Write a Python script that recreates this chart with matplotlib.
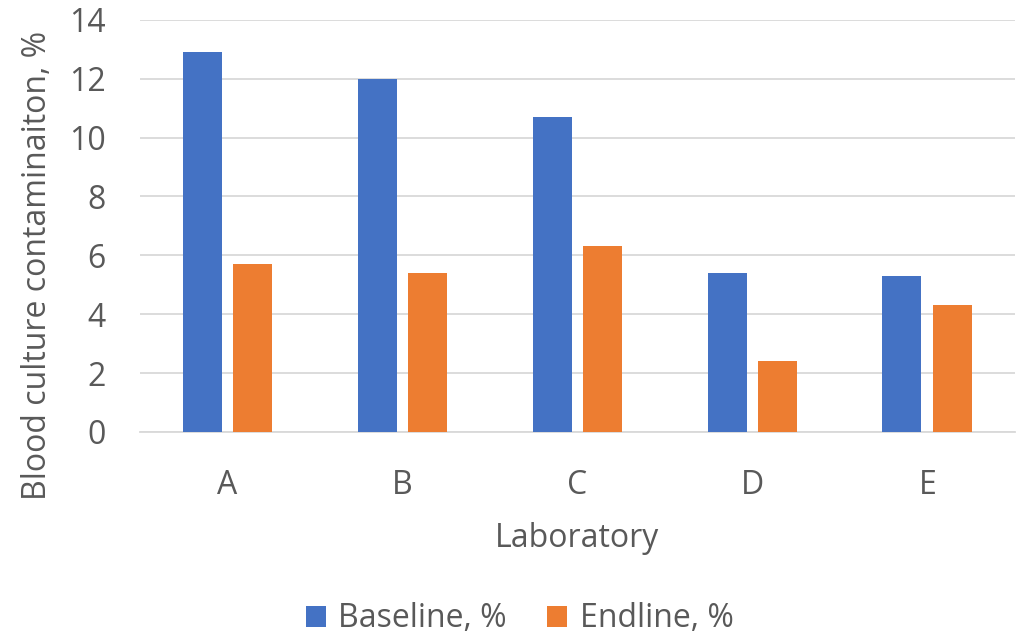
import matplotlib
matplotlib.use("Agg")
import matplotlib.pyplot as plt
import numpy as np

categories = ["A", "B", "C", "D", "E"]
baseline = [12.9, 12.0, 10.7, 5.4, 5.3]
endline = [5.7, 5.4, 6.3, 2.4, 4.3]
series_names = ["Baseline, %", "Endline, %"]
yticks = [0, 2, 4, 6, 8, 10, 12, 14]

plt.rcParams['font.family'] = ['Open Sans', 'DejaVu Sans']
txt = "#595959"
fs = 23

fig = plt.figure(figsize=(10.23, 6.38), dpi=100)
ax = fig.add_axes([0.137, 0.323, 0.855, 0.646])

x = np.arange(len(categories))
w = 0.223
off = 0.145
ax.bar(x - off, baseline, w, color="#4472C4", label=series_names[0], zorder=3)
ax.bar(x + off, endline, w, color="#ED7D31", label=series_names[1], zorder=3)

ax.set_xlim(-0.5, len(categories) - 0.5)
ax.set_ylim(0, 14)
ax.set_yticks(yticks)
ax.set_xticks(x)
ax.set_xticklabels(categories)
ax.yaxis.grid(True, color="#D9D9D9", linewidth=1.3, zorder=0)
for s in ["top", "right", "left"]:
    ax.spines[s].set_visible(False)
ax.spines["bottom"].set_color("#D9D9D9")
ax.spines["bottom"].set_linewidth(1.3)
ax.tick_params(axis="both", length=0, labelsize=fs, labelcolor=txt)
ax.tick_params(axis="y", pad=25)
ax.tick_params(axis="x", pad=27)
ax.set_xlabel("Laboratory", fontsize=fs, color=txt, labelpad=14)
ax.set_ylabel("Blood culture contaminaiton, %", fontsize=fs, color=txt,
              va="center", ha="center")
ax.yaxis.set_label_coords(-0.117, 0.405)

leg = fig.legend(loc="center", bbox_to_anchor=(0.508, 0.03), ncol=2, frameon=False,
                 fontsize=fs, labelcolor=txt, handlelength=0.63, handleheight=0.63,
                 handletextpad=0.4, columnspacing=1.25)

fig.savefig("out.png", dpi=100)
